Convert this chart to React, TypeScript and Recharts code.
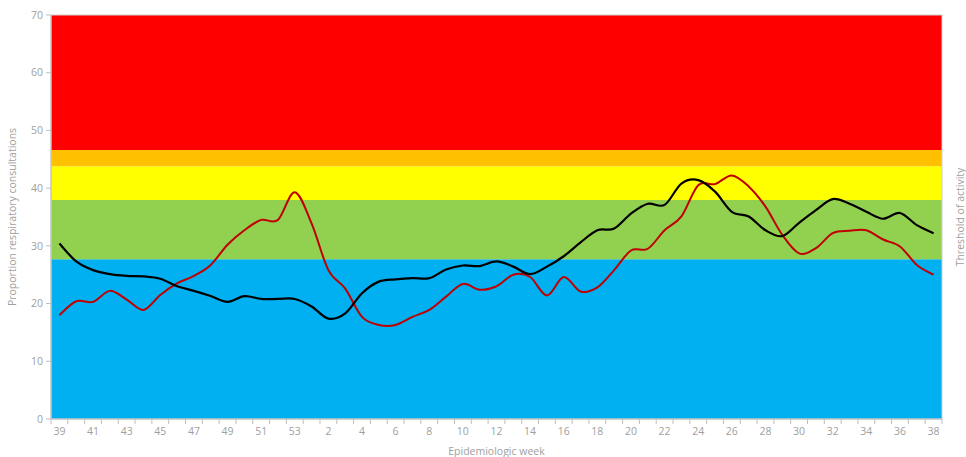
import React from 'react';
import { LineChart, Line, XAxis, YAxis, ReferenceArea } from 'recharts';

const weeks = [
  '39', '40', '41', '42', '43', '44', '45', '46', '47', '48', '49', '50', '51', '52', '53',
  '1', '2', '3', '4', '5', '6', '7', '8', '9', '10', '11', '12', '13', '14', '15', '16', '17', '18', '19',
  '20', '21', '22', '23', '24', '25', '26', '27', '28', '29', '30', '31', '32', '33', '34', '35', '36', '37', '38',
];

// black line
const currentSeason = [
  30.4, 27.3, 25.8, 25.1, 24.8, 24.7, 24.3, 23.0, 22.2, 21.3, 20.3, 21.3, 20.8, 20.8, 20.8,
  19.5, 17.4, 18.3, 21.8, 23.8, 24.2, 24.4, 24.4, 25.9, 26.6, 26.5, 27.3, 26.4, 25.1, 26.4, 28.2, 30.6, 32.7, 33.0,
  35.6, 37.3, 37.1, 40.8, 41.4, 39.4, 35.9, 35.1, 32.7, 31.7, 34.0, 36.2, 38.1, 37.3, 35.9, 34.7, 35.7, 33.6, 32.2,
];

// red line
const previousSeason = [
  18.0, 20.4, 20.3, 22.2, 20.7, 18.9, 21.5, 23.5, 24.8, 26.7, 30.2, 32.7, 34.5, 34.5, 39.3,
  33.9, 25.8, 22.6, 17.7, 16.3, 16.3, 17.7, 18.9, 21.2, 23.4, 22.4, 23.0, 25.0, 24.6, 21.4, 24.6, 22.1, 22.8, 25.8,
  29.2, 29.5, 32.7, 35.1, 40.5, 40.7, 42.2, 40.3, 36.8, 31.9, 28.7, 29.6, 32.2, 32.6, 32.7, 31.1, 29.9, 26.7, 25.0,
];

const yTicks = [0, 10, 20, 30, 40, 50, 60, 70];

const bands = [
  { from: 0, to: 27.7, color: '#00B0F0' },
  { from: 27.7, to: 37.95, color: '#92D050' },
  { from: 37.95, to: 43.8, color: '#FFFF00' },
  { from: 43.8, to: 46.6, color: '#FFC000' },
  { from: 46.6, to: 70, color: '#FF0000' },
];

const data = weeks.map((w, i) => ({ idx: i, week: w, current: currentSeason[i], previous: previousSeason[i] }));
const xTicks = weeks.map((_, i) => i);
const X_MIN = -0.5;
const X_MAX = weeks.length - 0.5;

const W = 966;
const H = 457;
const Y_W = 51;
const R_W = 24;
const X_H = 38;
const BAND = (W - R_W - Y_W) / weeks.length;
const GREY = '#a0a0a0';
const AXIS = '#bfbfbf';
const FONT = '"Open Sans", sans-serif';

// Excel-like smoothed line (Catmull-Rom through every point)
const smoothCurve = (context: any) => {
  let pts: number[][] = [];
  return {
    areaStart() {},
    areaEnd() {},
    lineStart() {
      pts = [];
    },
    point(x: number, y: number) {
      pts.push([+x, +y]);
    },
    lineEnd() {
      if (!pts.length) return;
      context.moveTo(pts[0][0], pts[0][1]);
      const t = 1 / 6;
      for (let i = 0; i < pts.length - 1; i++) {
        const p0 = pts[i - 1] || pts[i];
        const p1 = pts[i];
        const p2 = pts[i + 1];
        const p3 = pts[i + 2] || p2;
        context.bezierCurveTo(
          p1[0] + (p2[0] - p0[0]) * t,
          p1[1] + (p2[1] - p0[1]) * t,
          p2[0] - (p3[0] - p1[0]) * t,
          p2[1] - (p3[1] - p1[1]) * t,
          p2[0],
          p2[1],
        );
      }
    },
  };
};

const WeekTick = (props: any) => {
  const { x, y, payload } = props;
  const i = payload.value as number;
  const half = BAND / 2;
  return (
    <g>
      <line x1={x - half} x2={x - half} y1={y} y2={y + 5} stroke={AXIS} />
      {i === weeks.length - 1 && <line x1={x + half} x2={x + half} y1={y} y2={y + 5} stroke={AXIS} />}
      {i % 2 === 0 && (
        <text x={x} y={y + 16} textAnchor="middle" fill={GREY} fontSize={10.5} fontFamily={FONT}>
          {weeks[i]}
        </text>
      )}
    </g>
  );
};

export default function App() {
  return (
    <div style={{ position: 'absolute', left: 0, top: 0, width: W, height: H, background: '#fff' }}>
      <LineChart width={W} height={H} data={data} margin={{ top: 15, right: 0, bottom: 0, left: 0 }}>
        <XAxis
          dataKey="idx"
          type="number"
          domain={[X_MIN, X_MAX]}
          allowDataOverflow
          ticks={xTicks}
          interval={0}
          height={X_H}
          tickLine={false}
          tickSize={0}
          tickMargin={0}
          tick={<WeekTick />}
          axisLine={{ stroke: AXIS }}
          label={{ value: 'Epidemiologic week', position: 'insideBottom', offset: 2, fill: GREY, fontSize: 10.5, fontFamily: FONT }}
        />
        <YAxis
          yAxisId="left"
          width={Y_W}
          domain={[0, 70]}
          ticks={yTicks}
          interval={0}
          tickSize={5}
          tickMargin={3}
          tickLine={{ stroke: AXIS }}
          axisLine={{ stroke: AXIS }}
          tick={{ fill: GREY, fontSize: 10.5, fontFamily: FONT }}
          label={{
            value: 'Proportion respiratory consultations',
            angle: -90,
            position: 'insideLeft',
            offset: 12,
            fill: GREY,
            fontSize: 10.5,
            fontFamily: FONT,
            style: { textAnchor: 'middle' },
          }}
        />
        <YAxis
          yAxisId="right"
          orientation="right"
          width={R_W}
          domain={[0, 70]}
          tick={false}
          tickLine={false}
          axisLine={false}
          label={{
            value: 'Threshold of activity',
            angle: -90,
            position: 'insideRight',
            offset: 6,
            fill: GREY,
            fontSize: 10.5,
            fontFamily: FONT,
            style: { textAnchor: 'middle' },
          }}
        />
        {bands.map((b) => (
          <ReferenceArea
            key={b.color}
            yAxisId="left"
            x1={X_MIN}
            x2={X_MAX}
            y1={b.from}
            y2={b.to}
            fill={b.color}
            fillOpacity={1}
            stroke="none"
          />
        ))}
        <ReferenceArea yAxisId="left" x1={X_MIN} x2={X_MAX} y1={0} y2={70} fill="none" stroke="#d0d0d0" strokeWidth={1} />
        <Line yAxisId="left" type={smoothCurve as any} dataKey="previous" stroke="#C00000" strokeWidth={2} dot={false} isAnimationActive={false} />
        <Line yAxisId="left" type={smoothCurve as any} dataKey="current" stroke="#000000" strokeWidth={2.2} dot={false} isAnimationActive={false} />
      </LineChart>
    </div>
  );
}
